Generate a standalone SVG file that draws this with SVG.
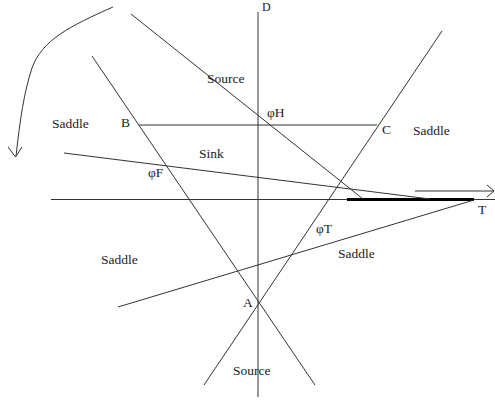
<svg xmlns="http://www.w3.org/2000/svg" width="495" height="403" viewBox="0 0 495 403">
<style>
.ln{stroke:#333;stroke-width:1;fill:none}
.thick{stroke:#000;stroke-width:3;fill:none}
text{font-family:"Liberation Serif","Times New Roman",serif;font-size:13.5px;fill:#222}
</style>
<rect width="495" height="403" fill="#fff"/>
<g id="connectors">
<line class="ln" x1="258" y1="12" x2="258" y2="397"/>
<line class="ln" x1="51" y1="199.5" x2="495" y2="199.5"/>
<line class="thick" x1="347" y1="199.5" x2="474" y2="199.5"/>
<line class="ln" x1="118" y1="307" x2="474" y2="200"/>
<line class="ln" x1="204" y1="385" x2="442" y2="31"/>
<line class="ln" x1="92" y1="56" x2="315" y2="385"/>
<line class="ln" x1="139" y1="125" x2="377" y2="125"/>
<line class="ln" x1="131" y1="14" x2="363" y2="199"/>
<line class="ln" x1="64" y1="153" x2="430" y2="199"/>
<line class="ln" x1="415" y1="191" x2="494" y2="191"/>
<polyline class="ln" points="487,185 494,191 487,197"/>
<path class="ln" d="M113,7 C70,26 42,40 32,68 C24,92 20,120 16,156"/>
<polyline class="ln" points="8,147 15.5,157 22,147"/>
</g>
<g id="labels">
<text x="262" y="11" style="font-size:12px">D</text>
<text x="207" y="83">Source</text>
<text x="52" y="128">Saddle</text>
<text x="121" y="127">B</text>
<text x="199" y="158">Sink</text>
<text x="148" y="177">φF</text>
<text x="267" y="117">φH</text>
<text x="382" y="134">C</text>
<text x="413" y="135">Saddle</text>
<text x="316" y="233">φT</text>
<text x="338" y="258">Saddle</text>
<text x="101" y="264">Saddle</text>
<text x="243" y="307">A</text>
<text x="233" y="375">Source</text>
<text x="478" y="214">T</text>
</g>
</svg>
